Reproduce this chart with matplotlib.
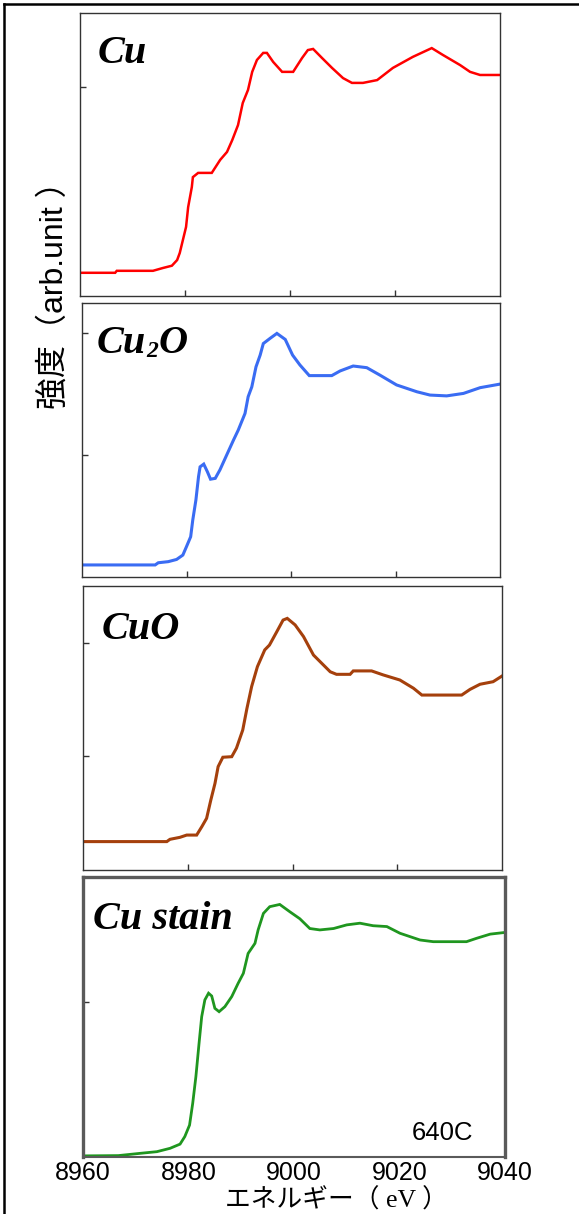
import numpy as np
import matplotlib
matplotlib.use('Agg')
import matplotlib.pyplot as plt
from matplotlib.lines import Line2D

# Energies (eV) and normalised intensities
cu_e = [8960, 8966.7, 8967, 8973.9, 8975.8, 8977.5, 8978.5, 8979, 8979.6, 8980.2,
        8980.6, 8981.3, 8981.5, 8982.5, 8985.1, 8986.7, 8988, 8989, 8990.1, 8991,
        8992, 8992.8, 8993.7, 8994.9, 8995.6, 8996.8, 8998.5, 9000.6, 9002.3, 9003.4,
        9004.4, 9006.1, 9008, 9010.1, 9011.8, 9013.9, 9016.6, 9019.6, 9023.4, 9027,
        9029.1, 9032.4, 9034.3, 9036.2, 9040]
cu_i = [0.082, 0.082, 0.089, 0.089, 0.099, 0.107, 0.127, 0.152, 0.198, 0.244,
        0.314, 0.385, 0.420, 0.435, 0.435, 0.481, 0.509, 0.551, 0.604, 0.682,
        0.728, 0.792, 0.834, 0.859, 0.859, 0.827, 0.792, 0.792, 0.841, 0.869,
        0.873, 0.841, 0.806, 0.770, 0.753, 0.753, 0.763, 0.806, 0.845, 0.876,
        0.852, 0.816, 0.792, 0.781, 0.781]

cu2o_e = [8960, 8974.0, 8974.6, 8976.5, 8978.1, 8979.3, 8980.0, 8980.8, 8981.2, 8981.8,
          8982.3, 8982.6, 8983.3, 8984.0, 8984.6, 8985.5, 8986.4, 8987.4, 8989.0, 8989.9,
          8991.2, 8991.8, 8992.5, 8993.3, 8994.1, 8994.7, 8996.0, 8997.3, 8998.9, 9000.3,
          9001.7, 9003.5, 9007.8, 9009.4, 9011.9, 9014.5, 9017.0, 9020.2, 9024.1, 9026.6,
          9029.8, 9033.0, 9036.2, 9040]
cu2o_i = [0.044, 0.044, 0.052, 0.056, 0.064, 0.080, 0.111, 0.147, 0.208, 0.281,
          0.366, 0.402, 0.412, 0.384, 0.357, 0.360, 0.391, 0.433, 0.500, 0.536,
          0.597, 0.658, 0.694, 0.767, 0.810, 0.852, 0.871, 0.889, 0.867, 0.810,
          0.774, 0.735, 0.735, 0.752, 0.770, 0.764, 0.737, 0.701, 0.676, 0.664,
          0.661, 0.670, 0.691, 0.704]

cuo_e = [8960, 8976.0, 8976.6, 8978.5, 8979.8, 8981.7, 8982.7, 8983.6, 8984.4, 8985.2,
         8985.8, 8986.7, 8988.4, 8989.3, 8990.5, 8991.3, 8992.2, 8993.3, 8994.7, 8995.6,
         8997.0, 8998.2, 8999.0, 9000.5, 9002.1, 9004.0, 9005.3, 9007.2, 9008.4, 9011.0,
         9011.6, 9015.1, 9017.3, 9020.5, 9023.1, 9024.7, 9032.3, 9033.9, 9035.8, 9038.3,
         9040]
cuo_i = [0.100, 0.100, 0.108, 0.115, 0.123, 0.123, 0.153, 0.182, 0.246, 0.305,
         0.364, 0.397, 0.399, 0.429, 0.493, 0.569, 0.646, 0.716, 0.775, 0.792,
         0.839, 0.880, 0.886, 0.863, 0.822, 0.757, 0.733, 0.698, 0.689, 0.689,
         0.701, 0.701, 0.687, 0.669, 0.640, 0.616, 0.616, 0.636, 0.654, 0.663,
         0.683]

stain_e = [8960, 8966.7, 8970.8, 8974.0, 8976.5, 8978.4, 8979.3, 8980.2, 8980.8, 8981.4,
           8982.0, 8982.5, 8983.1, 8983.8, 8984.4, 8985.0, 8985.8, 8986.9, 8988.2, 8989.4,
           8990.4, 8991.3, 8992.6, 8993.2, 8994.2, 8995.4, 8997.3, 8999.2, 9001.1, 9003.0,
           9004.9, 9007.5, 9010.0, 9012.5, 9015.0, 9017.6, 9020.1, 9023.9, 9026.4, 9032.7,
           9034.6, 9037.2, 9040]
stain_i = [0.004, 0.005, 0.013, 0.019, 0.031, 0.046, 0.073, 0.114, 0.192, 0.287,
           0.406, 0.501, 0.561, 0.585, 0.575, 0.531, 0.519, 0.537, 0.573, 0.620,
           0.656, 0.727, 0.763, 0.811, 0.870, 0.894, 0.902, 0.876, 0.851, 0.816,
           0.811, 0.816, 0.829, 0.835, 0.826, 0.823, 0.799, 0.775, 0.769, 0.769,
           0.781, 0.796, 0.802]

x_ticks = [8960, 8980, 9000, 9020, 9040]

W, H = 579, 1214
fig = plt.figure(figsize=(W / 100, H / 100), dpi=100)

def px_axes(l, t, r, b):
    return fig.add_axes([l / W, 1 - b / H, (r - l) / W, (b - t) / H])

panels = [
    # (box, energies, intensities, colour, lw, yticks, name)
    ((80, 13, 500, 296), cu_e, cu_i, '#ff0000', 1.8, [0.739], 'Cu'),
    ((82, 303, 500, 577), cu2o_e, cu2o_i, '#3a6cf3', 2.2, [0.891, 0.445], 'Cu2O'),
    ((83, 586, 502, 870), cuo_e, cuo_i, '#a5400c', 2.2, [0.799, 0.401], 'CuO'),
    ((83, 877, 505, 1157), stain_e, stain_i, '#1f961f', 2.0, [0.554], 'Cu stain'),
]
name_pos = {'Cu': (0.043, 0.823), 'Cu2O': (0.036, 0.818),
            'CuO': (0.045, 0.813), 'Cu stain': (0.024, 0.814)}

title_font = dict(family='Liberation Serif', weight='bold', style='italic', size=29)

for i, (box, e, inten, col, lw, yt, name) in enumerate(panels):
    ax = px_axes(*box)
    ax.plot(e, inten, color=col, lw=lw, solid_joinstyle='miter')
    ax.set_xlim(8960, 9040)
    ax.set_ylim(0, 1)
    ax.set_yticks(yt)
    ax.set_yticklabels([])
    ax.tick_params(direction='in', length=4, width=1, colors='#333333')
    last = i == len(panels) - 1
    if last:
        ax.set_xticks(x_ticks)
        ax.set_xticklabels([str(v) for v in x_ticks], fontsize=18,
                           family='Liberation Sans', color='black')
        ax.tick_params(axis='x', pad=3, length=0)
        for s in ax.spines.values():
            s.set_color('#5a5a5a')
            s.set_linewidth(2.4)
        ax.spines['bottom'].set_linewidth(1.5)
        ax.text(0.925, 0.06, '640C', transform=ax.transAxes, ha='right', va='baseline',
                fontsize=18.5, family='Liberation Sans')
    else:
        ax.set_xticks(x_ticks[1:-1])
        ax.set_xticklabels([])
        for s in ax.spines.values():
            s.set_color('#333333')
            s.set_linewidth(1.0)
    nx, ny = name_pos[name]
    if name == 'Cu2O':
        t1 = ax.text(nx, ny, 'Cu', transform=ax.transAxes, va='baseline', **title_font)
        t2 = ax.annotate('2', xy=(1, 0), xycoords=t1, va='bottom', ha='left',
                         family='Liberation Serif', weight='bold', style='italic', size=17)
        ax.annotate('O', xy=(1, 0), xycoords=t2, va='bottom', ha='left', **title_font)
    else:
        ax.text(nx, ny, name, transform=ax.transAxes, va='baseline', **title_font)

# axis titles
fig.text(54 / W, 1 - 287 / H, '強度（arb.unit ）', rotation=90, ha='center', va='center',
         fontsize=23, family=['Liberation Sans', 'Noto Sans CJK JP'])
fig.text(336 / W, 1 - 1200 / H, 'エネルギー（ eV ）', ha='center', va='center',
         fontsize=18.5, family=['Liberation Serif', 'Noto Sans CJK JP'])

# outer frame (top and left)
fig.add_artist(Line2D([4 / W, 1], [1 - 4 / H, 1 - 4 / H], transform=fig.transFigure,
                      color='black', lw=1.8))
fig.add_artist(Line2D([4 / W, 4 / W], [0, 1 - 4 / H], transform=fig.transFigure,
                      color='black', lw=1.8))

fig.savefig('out.png', dpi=100)
